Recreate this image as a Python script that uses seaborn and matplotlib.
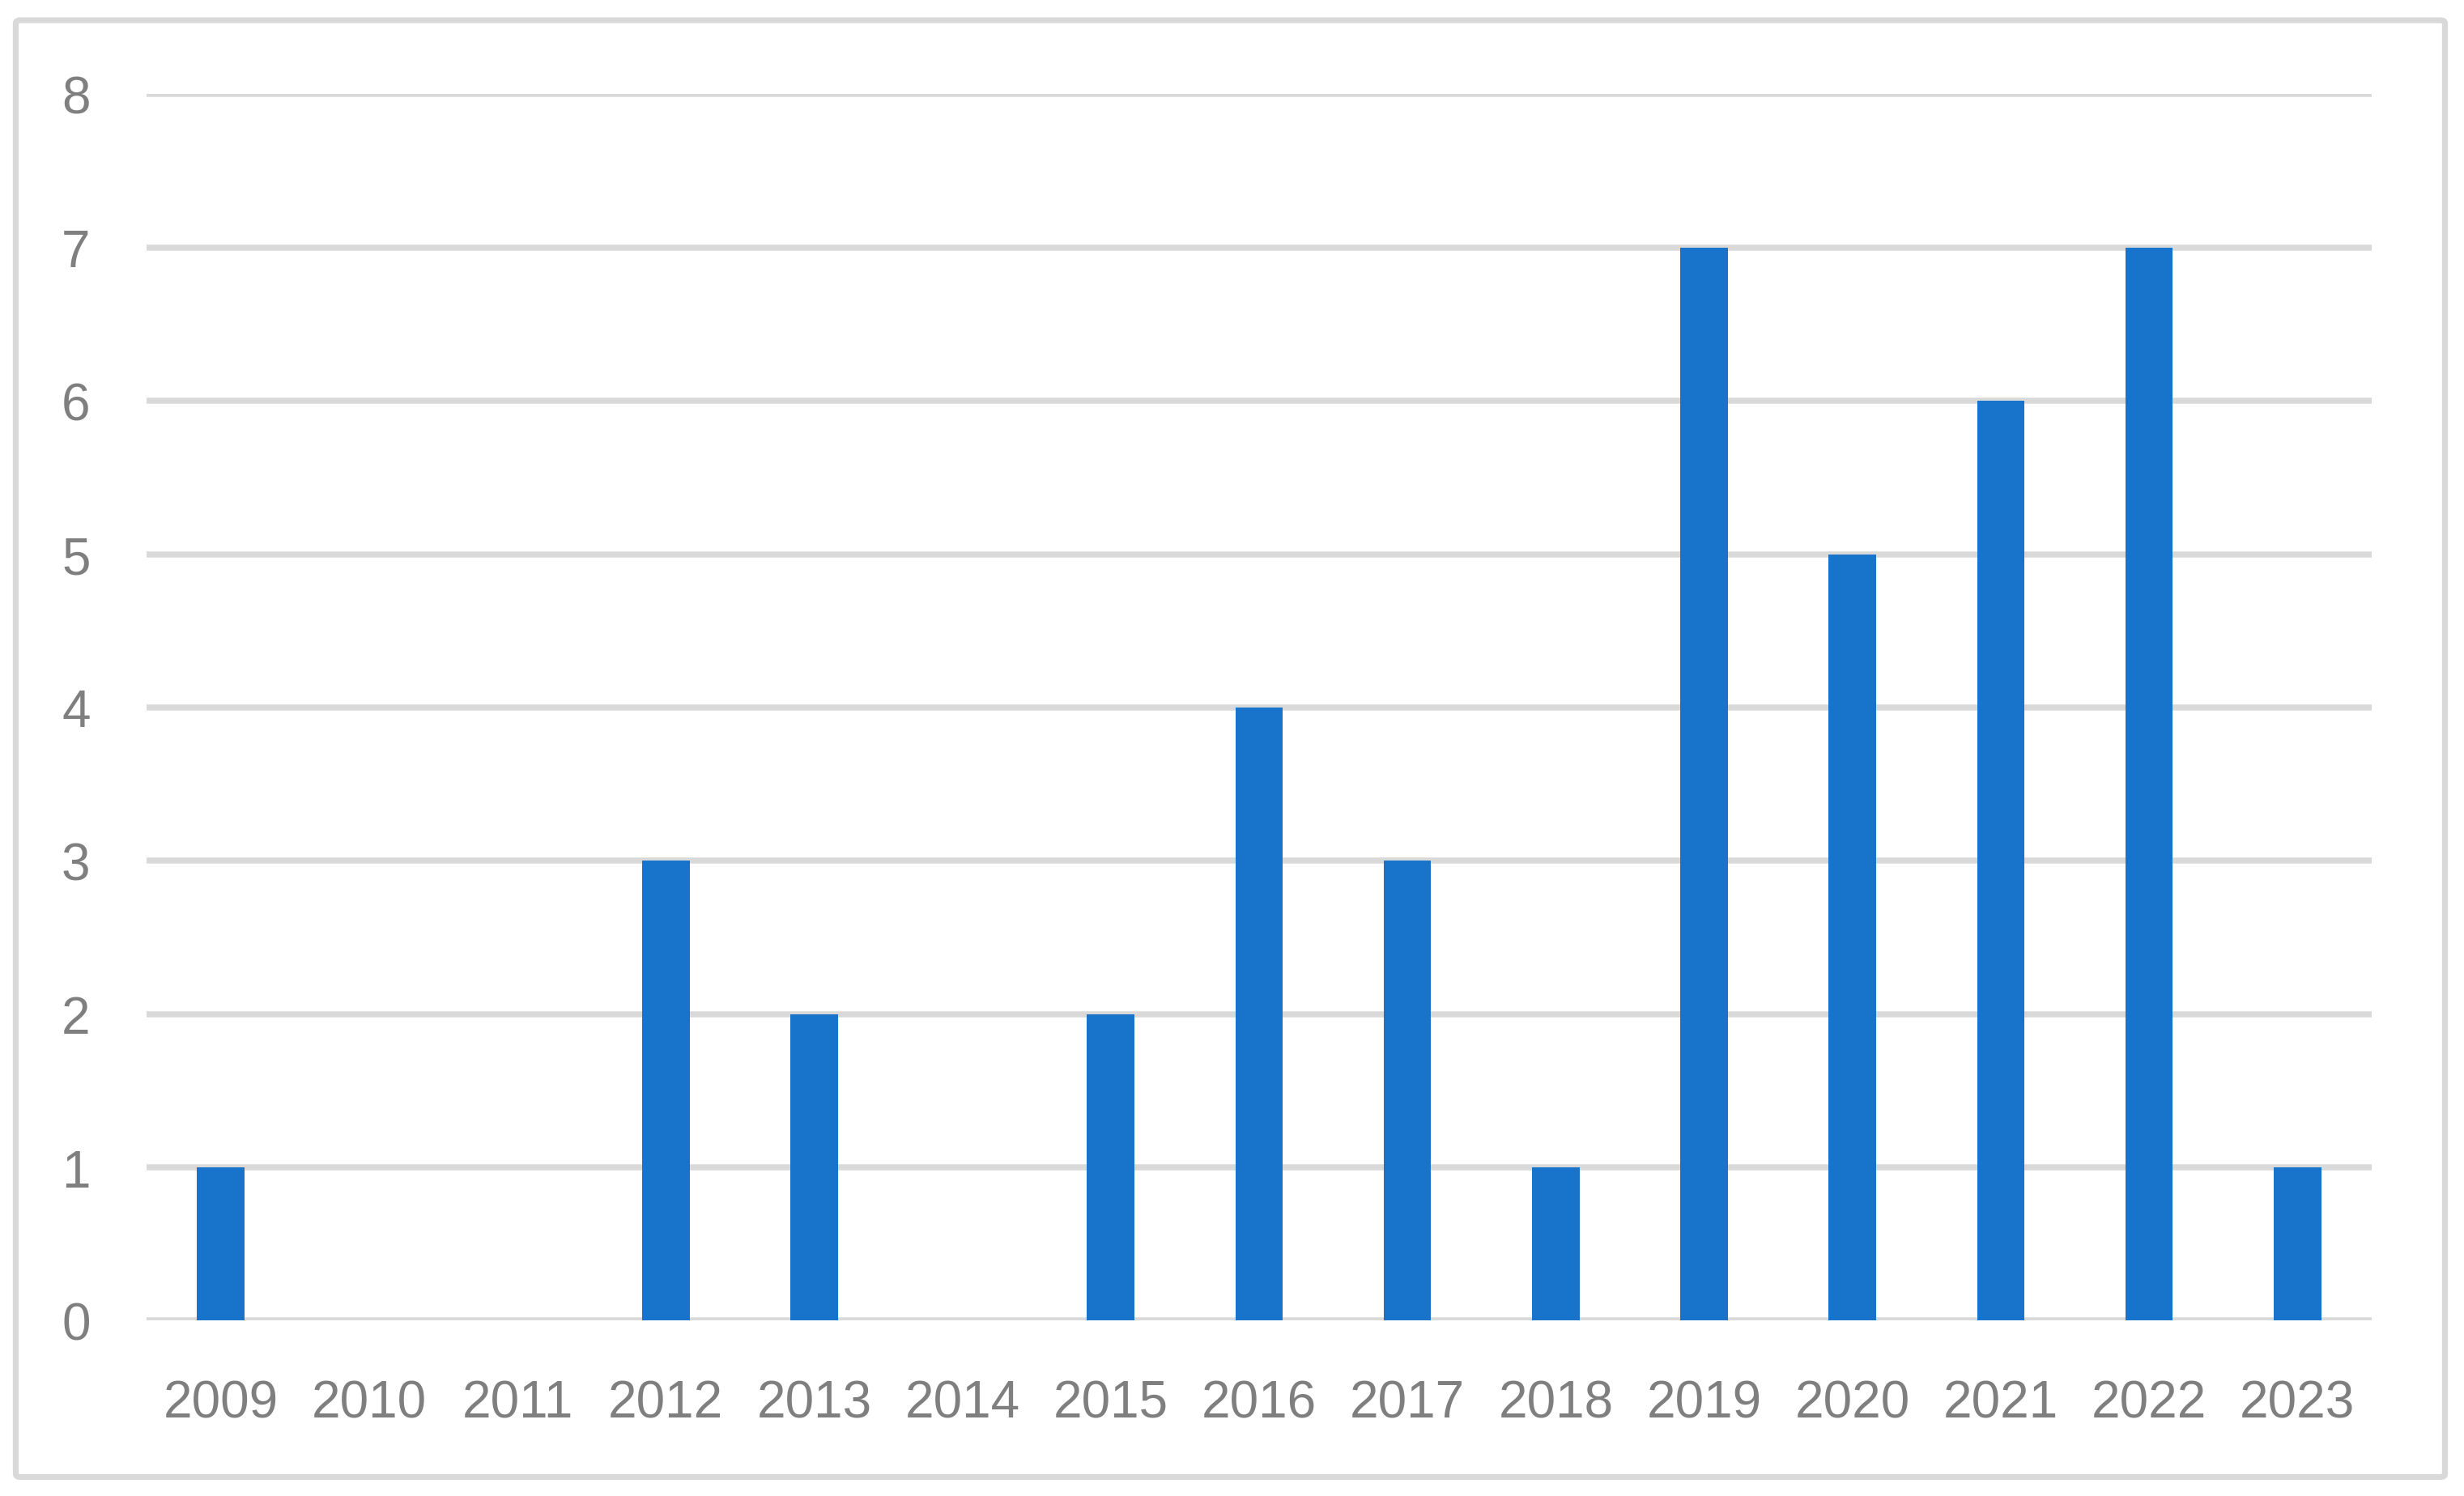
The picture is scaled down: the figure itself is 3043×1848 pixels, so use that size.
import matplotlib
matplotlib.use("Agg")
import matplotlib.pyplot as plt
import seaborn as sns
import pandas as pd
from matplotlib.patches import FancyBboxPatch

# chart data
years = ['2009', '2010', '2011', '2012', '2013', '2014', '2015', '2016',
         '2017', '2018', '2019', '2020', '2021', '2022', '2023']
counts = [1, 0, 0, 3, 2, 0, 2, 4, 3, 1, 7, 5, 6, 7, 1]
y_ticks = [0, 1, 2, 3, 4, 5, 6, 7, 8]

bar_color = '#1874CA'
grid_color = '#D9D9D9'
text_color = '#7F7F7F'


def main():
    sns.set_style('white')
    plt.rcParams['font.family'] = ['Liberation Sans', 'DejaVu Sans']

    df = pd.DataFrame({'year': years, 'count': counts})

    dpi = 200
    fig = plt.figure(figsize=(3043 / dpi, 1849 / dpi), dpi=dpi)
    ax = fig.add_axes([0.0595, 0.1171, 0.9030, 0.8194])

    sns.barplot(data=df, x='year', y='count', color=bar_color,
                width=0.32, saturation=1, linewidth=0, ax=ax)

    ax.set_xlim(-0.5, len(years) - 0.5)
    ax.set_ylim(0, 8)
    ax.set_yticks(y_ticks)
    ax.set_axisbelow(True)
    ax.yaxis.grid(True, color=grid_color, linewidth=2.7)
    ax.xaxis.grid(False)
    for s in ax.spines.values():
        s.set_visible(False)

    ax.set_xlabel('')
    ax.set_ylabel('')
    ax.tick_params(axis='both', length=0, labelsize=23, colors=text_color)
    ax.tick_params(axis='x', pad=26)
    ax.tick_params(axis='y', pad=25)

    # outer chart border
    border = FancyBboxPatch((19.5 / 3043, 1 - 1825.5 / 1849),
                            (3019.5 - 19.5) / 3043, (1825.5 - 26) / 1849,
                            boxstyle='round,pad=0,rounding_size=0.002',
                            transform=fig.transFigure, fill=False,
                            edgecolor=grid_color, linewidth=2.6)
    fig.patches.append(border)

    fig.savefig('out.png', dpi=dpi, facecolor='white')


if __name__ == "__main__":
    main()
